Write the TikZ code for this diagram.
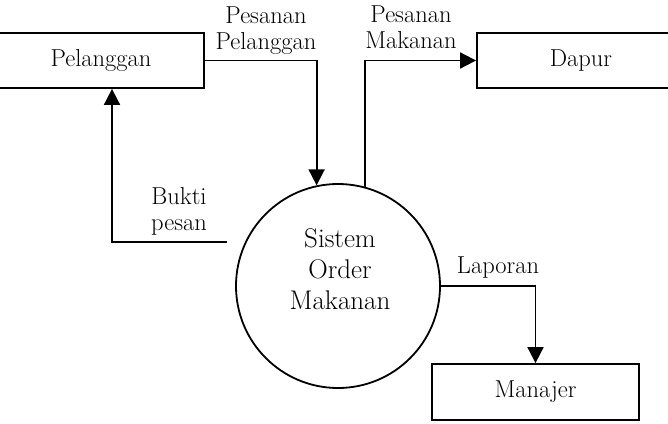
\documentclass[tikz,border=0pt]{standalone}
\usepackage{tikz}
\usetikzlibrary{positioning,arrows.meta,calc}

\begin{document}
\begin{tikzpicture}[
  x=1pt, y=-1pt,
  entity/.style={rectangle, draw=black, line width=1.8pt,
              minimum width=206pt, minimum height=55pt,
              align=center, inner sep=0pt},
  proc/.style={circle, draw=black, line width=1.8pt,
              minimum size=204pt, inner sep=0pt},
  proctext/.style={align=center, inner sep=0pt,
              font=\fontsize{27}{31}\selectfont},
  arr/.style={-{Triangle[length=16pt,width=16pt]}, line width=1.8pt, black},
  flow/.style={align=center, font=\fontsize{24.5}{26}\selectfont, inner sep=0pt},
  font=\fontsize{24.5}{26}\selectfont,
]
\clip (0,0) rectangle (668,423);

% External entities
\node[entity] (pelanggan) at (101,60.5) {Pelanggan};
\node[entity, minimum width=208pt] (dapur) at (581,60.5) {Dapur};
\node[entity, minimum width=207pt, minimum height=56pt] (manajer) at (535.5,392) {Manajer};

% Process
\node[proc] (sistem) at (338,286) {};
\node[proctext, anchor=base] (sistemtxt) at (340,309) {Sistem\\Order\\Makanan};
\coordinate (bukti) at (227,242);

% Flows
\draw[arr] (pelanggan.east) -| (sistem.102);
\draw[arr] (sistem.75) |- (dapur.west);
\draw[arr] (bukti) -| ([xshift=11pt]pelanggan.south);
\draw[arr] (sistem.east) -| (manajer.north);

% Flow labels
\node[flow, anchor=base] (lblpesan) at (266,49) {Pesanan\\Pelanggan};
\node[flow, anchor=base] (lblmakan) at (411,48) {Pesanan\\Makanan};
\node[flow, anchor=base] (lblbukti) at (179,230) {Bukti\\pesan};
\node[flow, anchor=base] (lbllapor) at (498,273) {Laporan};

\end{tikzpicture}
\end{document}
